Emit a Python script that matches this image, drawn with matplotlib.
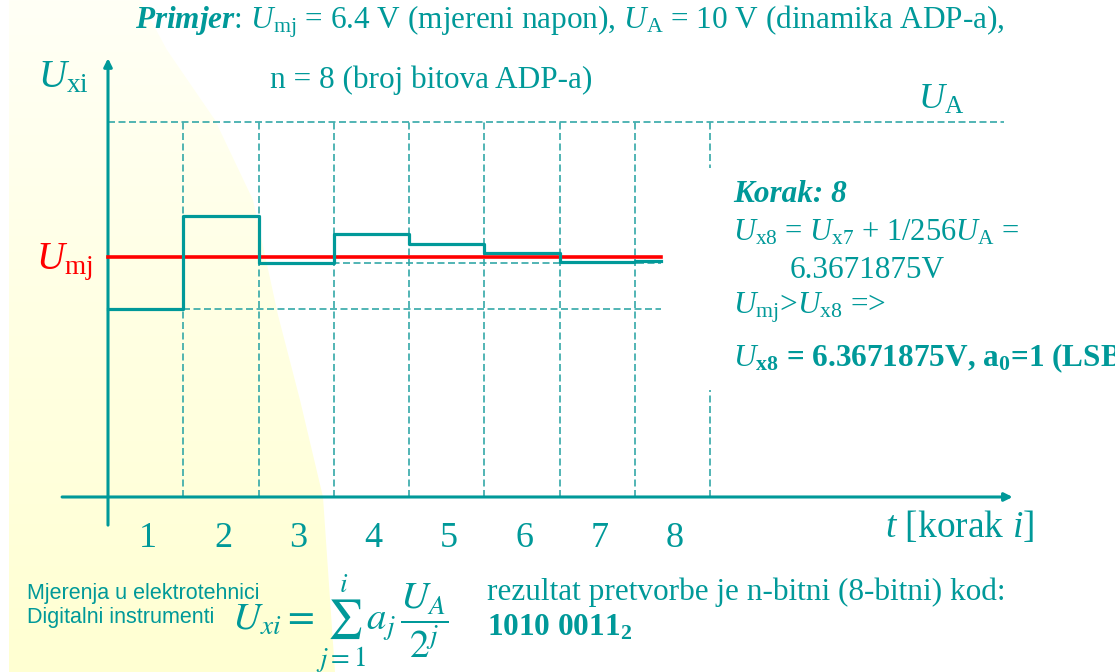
import numpy as np
import matplotlib.pyplot as plt
from matplotlib.patches import Polygon, Rectangle
from matplotlib.colors import LinearSegmentedColormap

plt.rcParams['font.family'] = ['Liberation Serif', 'DejaVu Serif']
plt.rcParams['mathtext.fontset'] = 'custom'
plt.rcParams['mathtext.rm'] = 'Liberation Serif'
plt.rcParams['mathtext.it'] = 'Liberation Serif:italic'
plt.rcParams['mathtext.bf'] = 'Liberation Serif:bold'
plt.rcParams['mathtext.bfit'] = 'Liberation Serif:bold:italic'

teal = '#009999'
dash_col = '#33a8a8'
red = '#ff0000'

# data (volts per step)
steps = [1, 2, 3, 4, 5, 6, 7, 8]
u_x = [5.0, 7.5, 6.25, 7.0, 6.75, 6.5, 6.27, 6.3]
u_mj = 6.4
u_a = 10.0
t_end = 7.35
step_labels = ['1', '2', '3', '4', '5', '6', '7', '8']

fig = plt.figure(figsize=(11.15, 6.72), dpi=100)

# background layer in pixel coordinates
bg = fig.add_axes([0, 0, 1, 1], zorder=0)
bg.set_xlim(0, 1115)
bg.set_ylim(672, 0)
bg.axis('off')
grad = np.linspace(0, 1, 256).reshape(-1, 1)
ycmap = LinearSegmentedColormap.from_list('y', ['#fffff6', '#ffffe2', '#ffffd2'])
im = bg.imshow(grad, cmap=ycmap, extent=[9, 340, 672, 0], aspect='auto')
shape = Polygon([(9, 0), (140, 0), (167, 50), (215, 120), (253, 200), (278, 315),
                 (300, 400), (323, 497), (335, 672), (9, 672)], closed=True,
                transform=bg.transData)
im.set_clip_path(shape)

# main chart axes (t in steps, U in volts)
ax = fig.add_axes([0, 0, 1, 1], zorder=1)
ax.patch.set_alpha(0)
ax.set_xlim(-1.435, 13.38)
ax.set_ylim(-4.667, 13.253)
ax.axis('off')


def txt(x, y, s, **kw):
    # text placed in pixel coordinates of the slide
    kw.setdefault('color', teal)
    kw.setdefault('va', 'center')
    kw.setdefault('ha', 'left')
    return ax.text(x, y, s, transform=bg.transData, zorder=8, **kw)


ls = (0, (4.2, 2.1))
for s in steps:
    ax.plot([s, s], [0, u_a], color=dash_col, lw=1.2, ls=ls, zorder=2)
ax.plot([0, 11.9], [u_a, u_a], color=dash_col, lw=1.2, ls=ls, zorder=2)
ax.plot([1, t_end], [u_x[0], u_x[0]], color=dash_col, lw=1.2, ls=ls, zorder=2)
ax.plot([2, t_end], [u_x[2], u_x[2]], color=dash_col, lw=1.2, ls=ls, zorder=2)

# white text box hiding part of the grid
ax.add_patch(Rectangle((700, 168), 415, 222, facecolor='white', edgecolor='none',
                       transform=bg.transData, zorder=3))

# axes with arrows
ax.annotate('', xy=(0, 11.7), xytext=(0, -0.75),
            arrowprops=dict(arrowstyle='-|>', color=teal, lw=2.2, mutation_scale=12,
                            shrinkA=0, shrinkB=0), zorder=4)
ax.annotate('', xy=(12.02, 0), xytext=(-0.61, 0),
            arrowprops=dict(arrowstyle='-|>', color=teal, lw=2.2, mutation_scale=12,
                            shrinkA=0, shrinkB=0), zorder=4)

# staircase approximation and measured voltage
xs = [0] + steps[:-1] + [t_end]
ys = u_x + [u_x[-1]]
ax.plot([0, t_end], [u_mj, u_mj], color=red, lw=2.6, zorder=5)
ax.step(xs, ys, where='post', color=teal, lw=2.3, zorder=6)

for s, lab in zip(steps, step_labels):
    ax.text(s - 0.47, -1.1, lab, color=teal, fontsize=26, ha='center', va='center')

ax.text(12.3, -0.8, r'$t$ [korak $i$]', color=teal, fontsize=27, ha='right', va='center')

# labels
txt(38, 78, r'$U_\mathrm{xi}$', fontsize=28)
txt(36, 262, r'$U_\mathrm{mj}$', color=red, fontsize=28)
txt(918, 100, r'$U_\mathrm{A}$', fontsize=26)

txt(570, 22, r'$\mathbfit{Primjer}$: $U_\mathrm{mj}$ = 6.4 V (mjereni napon), '
    r'$U_\mathrm{A}$ = 10 V (dinamika ADP-a),', fontsize=22.5, ha='center')
txt(270, 80, 'n = 8 (broj bitova ADP-a)', fontsize=22.5)

txt(733, 195, 'Korak: 8', fontsize=22.5, fontstyle='italic', fontweight='bold')
txt(733, 233, r'$U_\mathrm{x8}$ = $U_\mathrm{x7}$ + 1/256$U_\mathrm{A}$ =', fontsize=22)
txt(790, 270, '6.3671875V', fontsize=22.5)
txt(733, 308, r'$U_\mathrm{mj}$>$U_\mathrm{x8}$ =>', fontsize=22.5)
txt(733, 358, r'$U_\mathbf{x8}$ = 6.3671875V, a$_\mathbf{0}$=1 (LSB)', fontsize=22.5,
    fontweight='bold')

txt(27, 593, 'Mjerenja u elektrotehnici', fontsize=15.5,
    family=['Liberation Sans', 'DejaVu Sans'])
txt(27, 618, 'Digitalni instrumenti', fontsize=15.5,
    family=['Liberation Sans', 'DejaVu Sans'])
txt(232, 624, r'$U_{xi}=\sum_{j=1}^{i}a_j\,\dfrac{U_A}{2^j}$', fontsize=28,
    math_fontfamily='stix')
txt(487, 592, 'rezultat pretvorbe je n-bitni (8-bitni) kod:', fontsize=22.5)
txt(487, 628, r'1010 0011$_\mathbf{2}$', fontsize=22.5, fontweight='bold')

fig.savefig('out.png', dpi=100)
